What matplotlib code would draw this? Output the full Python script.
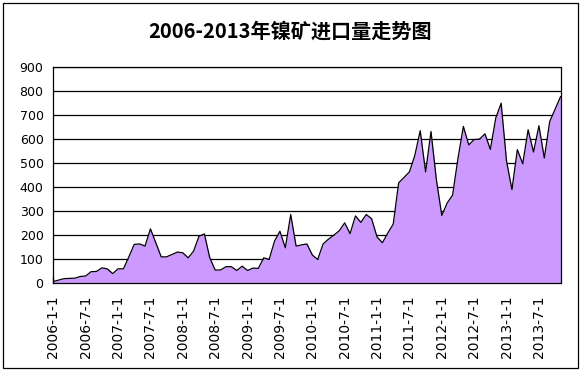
import matplotlib
matplotlib.use('Agg')
import matplotlib.pyplot as plt
from matplotlib.patches import Rectangle

title = '2006-2013年镍矿进口量走势图'
months = list(range(95))
values = [5, 11, 17, 18, 19, 26, 28, 46, 47, 62,
          58, 38, 58, 58, 108, 160, 162, 153, 225, 167,
          108, 108, 118, 128, 125, 104, 132, 194, 204, 104,
          53, 53, 67, 67, 51, 69, 51, 61, 60, 104,
          97, 174, 215, 146, 285, 153, 158, 162, 116, 97,
          162, 182, 199, 217, 250, 205, 279, 252, 285, 267,
          191, 167, 208, 245, 417, 440, 463, 532, 635, 463,
          632, 430, 281, 333, 366, 520, 653, 576, 598, 600,
          622, 557, 688, 750, 508, 389, 556, 497, 639, 546,
          656, 521, 674, 725, 777]
tick_labels = ['2006-1-1', '2006-7-1', '2007-1-1', '2007-7-1', '2008-1-1',
               '2008-7-1', '2009-1-1', '2009-7-1', '2010-1-1', '2010-7-1',
               '2011-1-1', '2011-7-1', '2012-1-1', '2012-7-1', '2013-1-1',
               '2013-7-1']
tick_pos = months[::6]
yticks = [0, 100, 200, 300, 400, 500, 600, 700, 800, 900]

W, H = 583, 370
fig = plt.figure(figsize=(W / 100, H / 100), dpi=100)
fig.patch.set_facecolor('white')
ax = fig.add_axes([53.3 / W, 1 - 282.7 / H, (560.5 - 53.3) / W, (282.7 - 67.3) / H])

ax.fill_between(months, values, 0, color='#CC99FF', linewidth=0, zorder=2)
ax.plot(months, values, color='black', linewidth=0.9, zorder=3)

ax.set_xlim(0, 94)
ax.set_ylim(0, 900)
ax.set_yticks(yticks)
ax.set_yticklabels([str(v) for v in yticks], fontsize=9, family='DejaVu Sans')
ax.yaxis.grid(True, color='black', linewidth=0.9, zorder=1)
ax.set_axisbelow(True)
ax.tick_params(axis='y', length=0, pad=7)
ax.set_xticks(tick_pos)
ax.set_xticklabels(tick_labels, rotation=90, fontsize=10, family='DejaVu Sans')
ax.tick_params(axis='x', direction='in', length=4, width=0.9, pad=9)
for s in ax.spines.values():
    s.set_color('black')
    s.set_linewidth(0.9)
    s.set_zorder(4)

fig.text(0.497, 1 - 31 / H, title, ha='center', va='center', fontsize=14.5,
         fontweight='bold', family=['Noto Sans CJK SC', 'DejaVu Sans'])

fig.patches.append(Rectangle((2.5 / W, 1 - 367.5 / H), 575.5 / W, 365 / H,
                             transform=fig.transFigure, fill=False,
                             edgecolor='black', linewidth=0.9))

fig.savefig('out.png', dpi=100)
